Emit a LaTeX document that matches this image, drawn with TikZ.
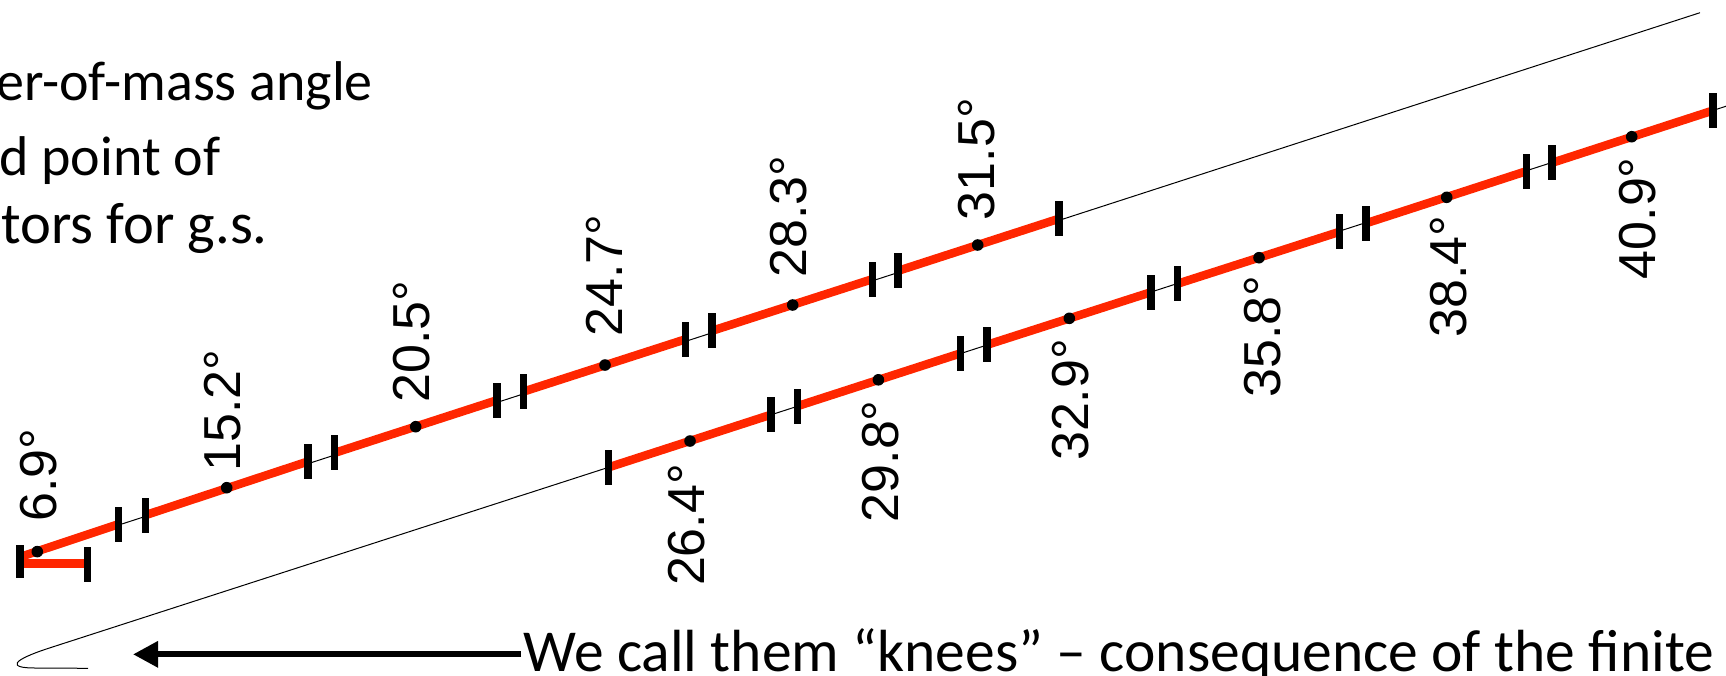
\documentclass[tikz,border=0pt]{standalone}
\usepackage{fontspec}
\setmainfont{Carlito}
\newfontfamily\anglefont{Liberation Sans}
\usepackage{tikz}
\usetikzlibrary{calc,arrows.meta}
\definecolor{knred}{HTML}{FF2600}

\begin{document}
\begin{tikzpicture}[x=1pt,y=-1pt,
  trackline/.style={line width=1pt},
  redline/.style={draw=knred,line width=8.5pt},
  barmark/.style={fill=black,minimum width=7.5pt,minimum height=35pt,inner sep=0pt},
  upl/.style={rotate=90,anchor=west,inner sep=0pt,font=\anglefont\fontsize{52}{52}\selectfont},
  lowl/.style={rotate=90,anchor=east,inner sep=0pt,font=\anglefont\fontsize{52}{52}\selectfont},
  slide/.style={inner sep=0pt,font=\fontsize{56}{72}\selectfont}]
\useasboundingbox (0,0) rectangle (1726,675);
\clip (0,0) rectangle (1726,675);

% text cut by the frame
\node[slide,anchor=base east] (com) at (373,100) {er-of-mass angle};
\node[slide,anchor=base east] (pnt) at (220.5,175) {d point of};
\node[slide,anchor=base east,font=\fontsize{58.5}{72}\selectfont] (gs) at (268,243.3) {tors for g.s.};
\node[slide,anchor=base west,font=\fontsize{59.5}{70}\selectfont,inner xsep=2pt] (knees) at (521,671) {We call them “knees” – consequence of the finite};
\coordinate (kneetip) at (133,0);
\draw[line width=6pt,-{Triangle[length=25pt,width=25pt]}] (knees.west) -- (knees.west -| kneetip);

% points on the two tracks
\coordinate (u0) at (37.3,551.6); \coordinate (u1) at (226.7,487.7); \coordinate (u2) at (415.7,426.7);
\coordinate (u3) at (605,365); \coordinate (u4) at (792.7,305); \coordinate (u5) at (977.7,245);
\coordinate (l0) at (690,441); \coordinate (l1) at (878.4,379.8); \coordinate (l2) at (1069.3,318.3);
\coordinate (l3) at (1259,257.7); \coordinate (l4) at (1446.7,197.3); \coordinate (l5) at (1631.7,136.7);

% thin tracks, the lower one with the hairpin
\draw[trackline] (20,557) -- (1700,12.7);
\draw[trackline] (1745,100.1) -- (50,647.8) .. controls (10,660.7) and (8,668) .. (35,668) -- (88,668.3);

% red pieces
\draw[redline] (87.3,563.5) -- (20,563.5);
\draw[redline] (20,557) -- ($(u0)!0.43!(u1)$);
\draw[redline] ($(u0)!0.57!(u1)$) -- ($(u1)!0.43!(u2)$);
\draw[redline] ($(u1)!0.57!(u2)$) -- ($(u2)!0.43!(u3)$);
\draw[redline] ($(u2)!0.57!(u3)$) -- ($(u3)!0.43!(u4)$);
\draw[redline] ($(u3)!0.57!(u4)$) -- ($(u4)!0.43!(u5)$);
\draw[redline] ($(u4)!0.57!(u5)$) -- (1059,218.7);
\draw[redline] (608.3,467.4) -- ($(l0)!0.43!(l1)$);
\draw[redline] ($(l0)!0.57!(l1)$) -- ($(l1)!0.43!(l2)$);
\draw[redline] ($(l1)!0.57!(l2)$) -- ($(l2)!0.43!(l3)$);
\draw[redline] ($(l2)!0.57!(l3)$) -- ($(l3)!0.43!(l4)$);
\draw[redline] ($(l3)!0.57!(l4)$) -- ($(l4)!0.43!(l5)$);
\draw[redline] ($(l4)!0.57!(l5)$) -- (1713,110.5);

% bars
\node[barmark,minimum height=33pt] (ua) at (20,561.5) {}; \node[barmark] (ub) at (87.3,564.2) {};
\node[barmark] (u01a) at ($(u0)!0.43!(u1)$) {}; \node[barmark] (u01b) at ($(u0)!0.57!(u1)$) {};
\node[barmark] (u12a) at ($(u1)!0.43!(u2)$) {}; \node[barmark] (u12b) at ($(u1)!0.57!(u2)$) {};
\node[barmark] (u23a) at ($(u2)!0.43!(u3)$) {}; \node[barmark] (u23b) at ($(u2)!0.57!(u3)$) {};
\node[barmark] (u34a) at ($(u3)!0.43!(u4)$) {}; \node[barmark] (u34b) at ($(u3)!0.57!(u4)$) {};
\node[barmark] (u45a) at ($(u4)!0.43!(u5)$) {}; \node[barmark] (u45b) at ($(u4)!0.57!(u5)$) {};
\node[barmark] (ue) at (1059,218.7) {};
\node[barmark] (ls) at (608.3,467.4) {};
\node[barmark] (l01a) at ($(l0)!0.43!(l1)$) {}; \node[barmark] (l01b) at ($(l0)!0.57!(l1)$) {};
\node[barmark] (l12a) at ($(l1)!0.43!(l2)$) {}; \node[barmark] (l12b) at ($(l1)!0.57!(l2)$) {};
\node[barmark] (l23a) at ($(l2)!0.43!(l3)$) {}; \node[barmark] (l23b) at ($(l2)!0.57!(l3)$) {};
\node[barmark] (l34a) at ($(l3)!0.43!(l4)$) {}; \node[barmark] (l34b) at ($(l3)!0.57!(l4)$) {};
\node[barmark] (l45a) at ($(l4)!0.43!(l5)$) {}; \node[barmark] (l45b) at ($(l4)!0.57!(l5)$) {};
\node[barmark] (le) at (1713,110.5) {};

% dots
\fill (u0) circle (5.8pt); \fill (u1) circle (5.8pt); \fill (u2) circle (5.8pt);
\fill (u3) circle (5.8pt); \fill (u4) circle (5.8pt); \fill (u5) circle (5.8pt);
\fill (l0) circle (5.8pt); \fill (l1) circle (5.8pt); \fill (l2) circle (5.8pt);
\fill (l3) circle (5.8pt); \fill (l4) circle (5.8pt); \fill (l5) circle (5.8pt);

% angles
\node[upl] (a69) at (38.3,522) {6.9°};
\node[upl] (a152) at (223,472) {15.2°};
\node[upl] (a205) at (411.7,403) {20.5°};
\node[upl] (a247) at (604,336.5) {24.7°};
\node[upl] (a283) at (788.3,278) {28.3°};
\node[upl] (a315) at (977,220.3) {31.5°};
\node[lowl] (a264) at (686.7,463.7) {26.4°};
\node[lowl] (a298) at (881,400) {29.8°};
\node[lowl] (a329) at (1071,338.7) {32.9°};
\node[lowl] (a358) at (1263,275.3) {35.8°};
\node[lowl] (a384) at (1449,215.3) {38.4°};
\node[lowl] (a409) at (1638,157) {40.9°};
\end{tikzpicture}
\end{document}
